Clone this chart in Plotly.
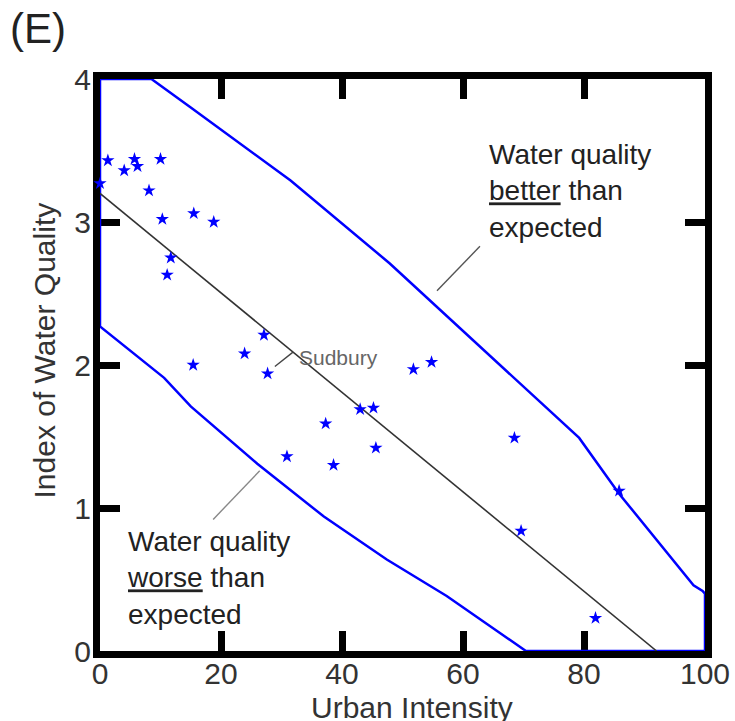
import plotly.graph_objects as go

# Data points (Urban Intensity, Index of Water Quality)
urban = [0, 1.3, 4.0, 5.7, 6.2, 8.1, 10.0, 10.3, 15.5, 18.8, 11.7, 11.1,
         27.1, 23.9, 15.4, 27.7, 54.8, 51.8, 45.2, 43.0, 37.3, 45.6, 30.9,
         38.6, 68.5, 85.8, 69.6, 81.9]
wq = [3.27, 3.43, 3.36, 3.44, 3.39, 3.22, 3.44, 3.02, 3.06, 3.00, 2.75, 2.63,
      2.21, 2.08, 2.00, 1.94, 2.02, 1.97, 1.70, 1.69, 1.59, 1.42, 1.36,
      1.30, 1.49, 1.12, 0.84, 0.23]

# Regression line
reg_x = [0, 92]
reg_y = [3.2, 0]

# Prediction band (closed outline)
band_x = [0, 8.5, 15, 31.5, 47.9, 62.8, 79.2, 85.8, 98.1, 99.6, 100, 100,
          70.4, 57.3, 47.4, 37, 26, 15, 10.6, 0, 0]
band_y = [4, 4, 3.80, 3.29, 2.71, 2.13, 1.49, 1.10, 0.46, 0.42, 0.40, 0,
          0, 0.385, 0.64, 0.94, 1.31, 1.71, 1.91, 2.27, 4]

# Leader lines
arrow_up_x = [62.8, 55.7]
arrow_up_y = [2.83, 2.52]
arrow_low_x = [18.7, 26.4]
arrow_low_y = [0.92, 1.26]
arrow_sud_x = [28.9, 31.9]
arrow_sud_y = [1.99, 2.09]

x_ticks = [0, 20, 40, 60, 80, 100]
y_ticks = [0, 1, 2, 3, 4]

FONT = "Liberation Sans, Arial, sans-serif"

fig = go.Figure()
fig.add_trace(go.Scatter(x=band_x, y=band_y, mode="lines",
                         line=dict(color="#0000ff", width=2.5),
                         cliponaxis=False, hoverinfo="skip"))
fig.add_trace(go.Scatter(x=reg_x, y=reg_y, mode="lines",
                         line=dict(color="#333333", width=1.6),
                         cliponaxis=False, hoverinfo="skip"))
for ax_, ay_, col in [(arrow_up_x, arrow_up_y, "#555555"),
                      (arrow_low_x, arrow_low_y, "#888888"),
                      (arrow_sud_x, arrow_sud_y, "#444444")]:
    fig.add_trace(go.Scatter(x=ax_, y=ay_, mode="lines",
                             line=dict(color=col, width=1.4),
                             cliponaxis=False, hoverinfo="skip"))
fig.add_trace(go.Scatter(x=urban, y=wq, mode="markers",
                         marker=dict(symbol="star", size=10, color="#0000ff",
                                     line=dict(width=0)),
                         cliponaxis=False))

axis_common = dict(showline=True, linecolor="black", linewidth=7,
                   mirror="ticks", ticks="inside", ticklen=20, tickwidth=7,
                   tickcolor="black", showgrid=False, zeroline=False,
                   layer="below traces", automargin=False,
                   tickfont=dict(family=FONT, size=30, color="#333333"))

fig.update_xaxes(range=[0, 100], tickvals=x_ticks, ticklabelstandoff=-10,
                 ticktext=[str(v) for v in x_ticks], **axis_common)
fig.update_yaxes(range=[0, 4], tickvals=y_ticks, ticklabelstandoff=-4,
                 ticktext=[str(v) for v in y_ticks], **axis_common)

annos = [
    dict(text="(E)", xref="paper", yref="paper", x=-0.152, y=1.088,
         xanchor="left", yanchor="middle", showarrow=False,
         font=dict(family=FONT, size=42, color="#222222")),
    dict(text="Urban Intensity", xref="paper", yref="paper", x=0.516, y=-0.098,
         xanchor="center", yanchor="middle", showarrow=False,
         font=dict(family=FONT, size=30, color="#333333")),
    dict(text="Index of Water Quality", xref="paper", yref="paper", x=-0.092,
         y=0.526, xanchor="center", yanchor="middle", textangle=-90,
         showarrow=False, font=dict(family=FONT, size=30, color="#333333")),
    dict(text="Water quality<br><u>better</u> than<br>expected", x=64.0, y=3.22,
         xanchor="left", yanchor="middle", align="left", showarrow=False,
         font=dict(family=FONT, size=28, color="#222222")),
    dict(text="Water quality<br><u>worse</u> than<br>expected", x=4.1, y=0.51,
         xanchor="left", yanchor="middle", align="left", showarrow=False,
         font=dict(family=FONT, size=28, color="#222222")),
    dict(text="Sudbury", x=32.6, y=2.05, xanchor="left", yanchor="middle",
         showarrow=False, font=dict(family=FONT, size=21, color="#666666")),
]

fig.update_layout(width=735, height=721, showlegend=False,
                  paper_bgcolor="white", plot_bgcolor="rgba(0,0,0,0)",
                  margin=dict(l=100, r=30, t=79, b=70),
                  annotations=annos)

fig.write_html("out.html")
